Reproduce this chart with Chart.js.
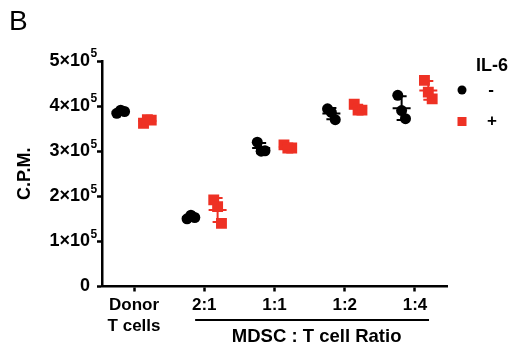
<!DOCTYPE html>
<html><head><meta charset="utf-8">
<script src="https://cdn.jsdelivr.net/npm/chart.js@4/dist/chart.umd.min.js"></script>
<style>html,body{margin:0;padding:0;background:#fff}#wrap{width:510px;height:346px;position:relative}</style>
</head><body><div id="wrap"><canvas id="c" width="510" height="346"></canvas></div>
<script>
const panelLabel = 'B';
const categories = [['Donor', 'T cells'], '2:1', '1:1', '1:2', '1:4'];
const groupTitle = 'MDSC : T cell Ratio';
const yTitle = 'C.P.M.';
const legendTitle = 'IL-6';
const seriesNames = ['-', '+'];
const yTicks = [0, 100000, 200000, 300000, 400000, 500000];
const yTickExponent = '5';
const il6Minus = [[384000, 391000, 388000], [150000, 158000, 153000], [320000, 300000, 301000], [394000, 386000, 370000], [424000, 390000, 372000]];
const il6Plus = [[362000, 370000, 369000], [192000, 177000, 140000], [314000, 307000, 307000], [404000, 391000, 391000], [457000, 431000, 416000]];

const FONT = "'Liberation Sans', Arial, sans-serif";
const colors = ['#000000', '#ee3124'];
const groupOffset = [-0.19, 0.19];
const spread = [-0.055, 0, 0.055];
const series = [il6Minus, il6Plus];

function toPoints(s, k) {
  const pts = [];
  s.forEach((vals, g) => vals.forEach((v, i) => pts.push({x: g + groupOffset[k] + spread[i], y: v})));
  return pts;
}

const statsPlugin = {
  id: 'stats',
  afterDatasetsDraw(chart) {
    const ctx = chart.ctx, xs = chart.scales.x, ys = chart.scales.y;
    ctx.save();
    series.forEach((s, k) => {
      ctx.strokeStyle = colors[k];
      ctx.lineWidth = 2;
      s.forEach((vals, g) => {
        const n = vals.length;
        const mean = vals.reduce((a, b) => a + b, 0) / n;
        const sd = Math.sqrt(vals.reduce((a, b) => a + (b - mean) * (b - mean), 0) / (n - 1));
        const cx = xs.getPixelForValue(g + groupOffset[k]);
        const ym = ys.getPixelForValue(mean), yt = ys.getPixelForValue(mean + sd), yb = ys.getPixelForValue(mean - sd);
        ctx.beginPath();
        ctx.moveTo(cx, yt); ctx.lineTo(cx, yb);
        ctx.moveTo(cx - 5, yt); ctx.lineTo(cx + 5, yt);
        ctx.moveTo(cx - 5, yb); ctx.lineTo(cx + 5, yb);
        ctx.moveTo(cx - 9, ym); ctx.lineTo(cx + 9, ym);
        ctx.stroke();
      });
    });
    ctx.restore();
  },
  afterDraw(chart) {
    const ctx = chart.ctx, xs = chart.scales.x, ys = chart.scales.y;
    ctx.save();
    // superscript exponents on y tick labels
    ctx.fillStyle = '#000';
    ctx.font = 'bold 12px ' + FONT;
    ctx.textAlign = 'left'; ctx.textBaseline = 'middle';
    yTicks.forEach(v => {
      if (v === 0) return;
      ctx.fillText(yTickExponent, ys.right - 5 - 7 + 0.5, ys.getPixelForValue(v) - 7);
    });
    // panel label
    ctx.font = '28px ' + FONT;
    ctx.textAlign = 'left'; ctx.textBaseline = 'alphabetic';
    ctx.fillText(panelLabel, 9, 30);
    // legend
    ctx.font = 'bold 18px ' + FONT;
    ctx.textAlign = 'right'; ctx.textBaseline = 'middle';
    ctx.fillText(legendTitle, 508, 66);
    ctx.fillStyle = colors[0];
    ctx.beginPath(); ctx.arc(462, 90, 4.5, 0, Math.PI * 2); ctx.fill();
    ctx.fillStyle = colors[1];
    ctx.fillRect(457.5, 117, 9, 9);
    ctx.fillStyle = '#000';
    ctx.font = 'bold 17px ' + FONT;
    ctx.textAlign = 'center';
    ctx.fillText(seriesNames[0], 491, 90);
    ctx.fillText(seriesNames[1], 492, 121);
    // group bracket
    const x1 = xs.getPixelForValue(0.87), x2 = xs.getPixelForValue(4.2);
    ctx.strokeStyle = '#000'; ctx.lineWidth = 2;
    ctx.beginPath(); ctx.moveTo(x1, 320); ctx.lineTo(x2, 320); ctx.stroke();
    ctx.font = 'bold 18.5px ' + FONT;
    ctx.fillText(groupTitle, xs.getPixelForValue(2.6), 337);
    ctx.restore();
  }
};

Chart.defaults.font.family = FONT;
Chart.defaults.color = '#000';

new Chart(document.getElementById('c'), {
  type: 'scatter',
  data: {
    datasets: series.map((s, k) => ({
      label: seriesNames[k],
      data: toPoints(s, k),
      backgroundColor: colors[k],
      borderWidth: 0,
      pointStyle: k === 0 ? 'circle' : 'rect',
      pointRadius: k === 0 ? 5.5 : 7.7,
      pointHoverRadius: k === 0 ? 5.5 : 7.7
    }))
  },
  options: {
    responsive: false,
    animation: false,
    devicePixelRatio: 1,
    layout: {padding: {left: 0, right: 63, top: 61, bottom: 0}},
    plugins: {legend: {display: false}, tooltip: {enabled: false}},
    scales: {
      x: {
        type: 'linear', min: -0.456, max: 4.456,
        afterBuildTicks(scale) { scale.ticks = categories.map((c, i) => ({value: i})); },
        afterFit(scale) { scale.height = 59.5; },
        ticks: {
          autoSkip: false, maxRotation: 0, padding: 4,
          font: {size: 17, weight: 'bold'}, color: '#000',
          callback: (v) => categories[Math.round(v)]
        },
        grid: {drawOnChartArea: false, drawTicks: true, tickLength: 5, tickWidth: 2.5, tickColor: '#000'},
        border: {color: '#000', width: 2.5}
      },
      y: {
        min: 0, max: 500000,
        afterBuildTicks(scale) { scale.ticks = yTicks.map(v => ({value: v})); },
        afterFit(scale) { scale.width = 102; },
        ticks: {
          padding: 7,
          font: {size: 18, weight: 'bold'}, color: '#000',
          callback: (v) => v === 0 ? '0' : (v / 100000) + '×10'
        },
        title: {display: true, text: yTitle, font: {size: 18, weight: 'bold'}, color: '#000', padding: {top: 14, bottom: 0}},
        grid: {drawOnChartArea: false, drawTicks: true, tickLength: 5, tickWidth: 2.5, tickColor: '#000'},
        border: {color: '#000', width: 2.5}
      }
    }
  },
  plugins: [statsPlugin]
});
</script></body></html>
